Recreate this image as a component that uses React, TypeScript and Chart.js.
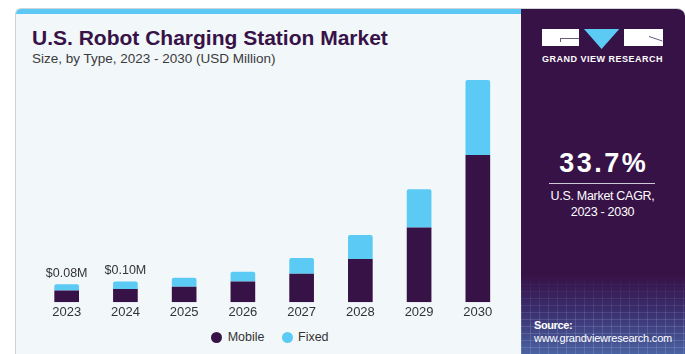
import React, { useEffect, useRef } from "react";
import { Chart, registerables } from "chart.js";

Chart.register(...registerables);

const years = ["2023", "2024", "2025", "2026", "2027", "2028", "2029", "2030"];
const mobile = [0.052, 0.059, 0.069, 0.092, 0.127, 0.192, 0.332, 0.655];
const fixed = [0.028, 0.034, 0.04, 0.044, 0.07, 0.107, 0.171, 0.333];
const valueLabels = ["$0.08M", "$0.10M", "", "", "", "", "", ""];
const seriesNames = ["Mobile", "Fixed"];
const seriesColors = ["#371247", "#5bcbf5"];

const FONT = "'Liberation Sans', Arial, sans-serif";

const valueLabelPlugin = {
  id: "valueLabels",
  afterDatasetsDraw(chart: any) {
    const ctx = chart.ctx;
    const meta = chart.getDatasetMeta(1);
    ctx.save();
    ctx.font = `12.5px ${FONT}`;
    ctx.fillStyle = "#333333";
    ctx.textAlign = "center";
    ctx.textBaseline = "alphabetic";
    meta.data.forEach((el: any, i: number) => {
      const t = valueLabels[i];
      if (!t) return;
      ctx.fillText(t, el.x, el.y - 7);
    });
    ctx.restore();
  },
};

function BarChart() {
  const ref = useRef<HTMLCanvasElement>(null);
  useEffect(() => {
    if (!ref.current) return;
    const chart = new Chart(ref.current, {
      type: "bar",
      data: {
        labels: years,
        datasets: [
          {
            label: seriesNames[0],
            data: mobile,
            backgroundColor: seriesColors[0],
            borderWidth: 0,
          },
          {
            label: seriesNames[1],
            data: fixed,
            backgroundColor: seriesColors[1],
            borderWidth: 0,
            borderRadius: 2,
          },
        ],
      },
      options: {
        animation: false,
        responsive: false,
        maintainAspectRatio: false,
        layout: { padding: { left: 21.3, right: 8.8, top: 7.3, bottom: 8.1 } },
        datasets: { bar: { categoryPercentage: 1, barPercentage: 0.42 } } as any,
        plugins: {
          legend: { display: false },
          tooltip: { enabled: false },
        },
        scales: {
          x: {
            stacked: true,
            grid: { display: false, drawTicks: false, tickLength: 0 },
            border: { display: false },
            ticks: { color: "#333333", font: { family: FONT, size: 13 }, padding: 2 },
          },
          y: {
            stacked: true,
            display: false,
            min: 0,
            max: 1.0,
          },
        },
      },
      plugins: [valueLabelPlugin],
    });
    return () => chart.destroy();
  }, []);
  return (
    <canvas
      ref={ref}
      width={500}
      height={260}
      style={{ position: "absolute", left: 16, top: 70, width: 500, height: 260 }}
    />
  );
}

export default function App() {
  return (
    <div
      style={{
        position: "absolute",
        left: 0,
        top: 0,
        width: 685,
        height: 354,
        overflow: "hidden",
        background: "#ffffff",
        fontFamily: FONT,
      }}
    >
      {/* card frame */}
      <div
        style={{
          position: "absolute",
          left: 15,
          top: 8,
          width: 669,
          height: 346,
          borderTop: "1px solid #cfd3d7",
          borderLeft: "1px solid #cfd3d7",
          borderTopLeftRadius: 6,
          borderTopRightRadius: 8,
          overflow: "hidden",
          background: "#f2f7fa",
        }}
      >
        <div style={{ position: "absolute", left: 0, top: 0, width: 505, height: 5, background: "#5bc8f5" }} />
        <div
          style={{
            position: "absolute",
            left: 505,
            top: 0,
            width: 164,
            height: 346,
            background:
              "linear-gradient(180deg, #371247 0%, #371247 77%, #3a2d6c 87%, #4b63a3 100%)",
          }}
        >
          <div
            style={{
              position: "absolute",
              left: 0,
              right: 0,
              bottom: 0,
              height: 80,
              backgroundImage:
                "repeating-linear-gradient(90deg, rgba(200,220,255,0.16) 0 1px, transparent 1px 9px), repeating-linear-gradient(0deg, rgba(200,220,255,0.16) 0 1px, transparent 1px 7px)",
              WebkitMaskImage: "linear-gradient(180deg, transparent 0%, #000 60%)",
              maskImage: "linear-gradient(180deg, transparent 0%, #000 60%)",
            }}
          />
        </div>
      </div>

      {/* title */}
      <div
        style={{
          position: "absolute",
          left: 32,
          top: 27.3,
          fontSize: 21,
          lineHeight: "21px",
          fontWeight: 700,
          color: "#371247",
          whiteSpace: "nowrap",
        }}
      >
        U.S. Robot Charging Station Market
      </div>
      <div
        style={{
          position: "absolute",
          left: 32,
          top: 51.6,
          fontSize: 13.5,
          lineHeight: "14px",
          color: "#3a3a3a",
          whiteSpace: "nowrap",
        }}
      >
        Size, by Type, 2023 - 2030 (USD Million)
      </div>

      <BarChart />

      {/* legend */}
      {seriesNames.map((n, i) => {
        const cx = i === 0 ? 216.7 : 287;
        return (
          <React.Fragment key={n}>
            <div
              style={{
                position: "absolute",
                left: cx - 5.5,
                top: 337.3 - 5.5,
                width: 11,
                height: 11,
                borderRadius: "50%",
                background: seriesColors[i],
              }}
            />
            <div
              style={{
                position: "absolute",
                left: cx + 11,
                top: 330,
                fontSize: 12.5,
                lineHeight: "14px",
                color: "#333333",
                whiteSpace: "nowrap",
              }}
            >
              {n}
            </div>
          </React.Fragment>
        );
      })}

      {/* logo */}
      <div style={{ position: "absolute", left: 542.3, top: 29.3, width: 37, height: 17, background: "#ffffff" }}>
        <div style={{ position: "absolute", left: 17.7, top: 8.4, width: 19.3, height: 1, background: "#6a5a7a" }} />
        <div style={{ position: "absolute", left: 17.7, top: 8.4, width: 1, height: 4.5, background: "#6a5a7a" }} />
      </div>
      <svg style={{ position: "absolute", left: 584, top: 29.3 }} width={36} height={21}>
        <polygon points="0,0 35.3,0 17.6,20" fill="#5bcbf5" />
      </svg>
      <div style={{ position: "absolute", left: 624.3, top: 29.3, width: 38.4, height: 17, background: "#ffffff" }}>
        <svg style={{ position: "absolute", left: 0, top: 0 }} width={39} height={17}>
          <line x1={25} y1={7.5} x2={38.4} y2={12} stroke="#6a5a7a" strokeWidth={1} />
        </svg>
      </div>
      <div
        style={{
          position: "absolute",
          left: 542,
          top: 53.5,
          width: 121,
          textAlign: "center",
          fontSize: 9,
          lineHeight: "10px",
          fontWeight: 700,
          letterSpacing: 0.5,
          color: "#ffffff",
          whiteSpace: "nowrap",
        }}
      >
        GRAND VIEW RESEARCH
      </div>

      {/* CAGR */}
      <div
        style={{
          position: "absolute",
          left: 521,
          width: 163,
          top: 148,
          textAlign: "center",
          fontSize: 27,
          lineHeight: "30px",
          fontWeight: 700,
          letterSpacing: 2.5,
          paddingLeft: 2.5,
          color: "#ffffff",
          whiteSpace: "nowrap",
          boxSizing: "border-box",
        }}
      >
        33.7%
      </div>
      <div style={{ position: "absolute", left: 549, top: 182.5, width: 106, height: 1.2, background: "#cfc8d8" }} />
      <div
        style={{
          position: "absolute",
          left: 521,
          width: 163,
          top: 187.5,
          textAlign: "center",
          fontSize: 12.5,
          lineHeight: "16px",
          letterSpacing: -0.3,
          color: "#ffffff",
          whiteSpace: "nowrap",
        }}
      >
        U.S. Market CAGR,
        <br />
        2023 - 2030
      </div>

      {/* source */}
      <div
        style={{
          position: "absolute",
          left: 534,
          top: 319,
          fontSize: 11,
          lineHeight: "13px",
          color: "#ffffff",
          whiteSpace: "nowrap",
        }}
      >
        <div style={{ fontWeight: 700, letterSpacing: -0.4 }}>Source:</div>
        <div style={{ letterSpacing: -0.2 }}>www.grandviewresearch.com</div>
      </div>
    </div>
  );
}
